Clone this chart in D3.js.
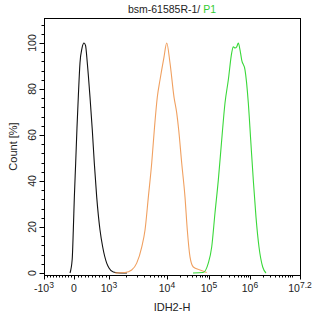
<!DOCTYPE html>
<html><head><meta charset="utf-8">
<script src="https://cdn.jsdelivr.net/npm/d3@7"></script>
<style>body{margin:0;background:#fff}svg{display:block}text{font-family:"Liberation Sans",Arial,sans-serif}</style>
</head><body><svg id="c" width="314" height="317"></svg>
<script>
// ---- data (x in fluorescence units, y in % of max count) ----
const blackX = [-133,-60,-23,10,48,85,123,171,229,286,329,380,457,523,580,649,743,820,934,1000,1186,1550,2040];
const blackY = [0,6,18.7,33,47.8,63,76.5,91.3,97.8,100,99,91.3,76.5,62.2,47.8,33,18.7,11.3,4.3,2.2,0.4,0,0];
const orangeX = [1268,1888,2460,3003,3666,4180,4768,5450,6040,6808,7570,8103,8875,9890,11790,14680,17030,19000,22390,26830,30430,35290,42300,61030,88100];
const orangeY = [0,0.2,1.3,4.3,11.3,18.7,33,47.8,62.2,76.5,83.9,88.3,93.9,100,91.3,76.5,69.6,62.2,47.8,33,18.7,7,2.6,1.3,0.2];
const greenX = [41590,71950,96200,116400,140000,168700,204000,245600,295600,357900,391600,430600,474000,519000,570700,627700,755300,910000,1040000,1200000,1393000,1644000,2018000,2420000];
const greenY = [0,0.2,4.3,11.3,26.1,40.4,57.8,73.9,83.9,95.7,98.4,97.8,98.3,100,97,92.6,88.3,73.9,57.8,40.4,24.3,11.3,2.6,0];
const xTickVals = [-1000,0,1000,1e4,1e5,1e6,Math.pow(10,7.2)];
const xTickLabels = [["-10","3"],["0",""],["10","3"],["10","4"],["10","5"],["10","6"],["10","7.2"]];
const yTickVals = [0,20,40,60,80,100];
const titleMain = "bsm-61585R-1/ ";
const titleGate = "P1";
const xTitle = "IDH2-H";
const yTitle = "Count [%]";

const svg = d3.select("#c");
const L=44,R=300,T=18,B=275;
// biexponential-like display: linear around zero, log above 10^3
const xLin = d3.scaleLinear().domain([-1000,0,1000]).range([44,74,109]);
const xLog = d3.scaleLog().domain([1e3,1e4,1e5,1e6,Math.pow(10,7.2)]).range([109,167,209,250,300]);
const x = v => v<=1000 ? xLin(v) : xLog(v);
const y = d3.scaleLinear().domain([0,100]).range([273,43]);

// minor ticks
const xMinor=[];
for(let v=-900;v<=900;v+=100) if(v!==0) xMinor.push(v);
[1e3,1e4,1e5,1e6].forEach(d=>{for(let k=2;k<=9;k++) xMinor.push(k*d);});
xMinor.push(1e7);
const yMinor=[]; for(let v=0;v<=108;v+=4) if(v%20!==0) yMinor.push(v);

const g = svg.append("g").attr("stroke","#000").attr("stroke-width",1);
g.selectAll(".xm").data(xMinor).join("line").attr("x1",d=>Math.round(x(d))+0.5).attr("x2",d=>Math.round(x(d))+0.5).attr("y1",B).attr("y2",B+2.5);
g.selectAll(".xM").data(xTickVals).join("line").attr("x1",d=>Math.round(x(d))+0.5).attr("x2",d=>Math.round(x(d))+0.5).attr("y1",B).attr("y2",B+4.5);
g.selectAll(".ym").data(yMinor).join("line").attr("y1",d=>Math.round(y(d))+0.5).attr("y2",d=>Math.round(y(d))+0.5).attr("x1",L).attr("x2",L-2.5);
g.selectAll(".yM").data(yTickVals).join("line").attr("y1",d=>Math.round(y(d))+0.5).attr("y2",d=>Math.round(y(d))+0.5).attr("x1",L).attr("x2",L-4.5);

// curves
const line = d3.line().x((d)=>x(d[0])).y(d=>y(d[1])).curve(d3.curveMonotoneX);
const series=[[blackX,blackY,"#111"],[orangeX,orangeY,"#f0a060"],[greenX,greenY,"#3ad83a"]];
series.forEach(([xs,ys,c])=>{
  svg.append("path").attr("d",line(xs.map((v,i)=>[v,ys[i]]))).attr("fill","none").attr("stroke",c).attr("stroke-width",1.1);
});

// frame
svg.append("rect").attr("x",L+0.5).attr("y",T+0.5).attr("width",R-L).attr("height",B-T).attr("fill","none").attr("stroke","#000").attr("stroke-width",1);

// x tick labels
const xl = svg.append("g").attr("fill","#222").attr("font-size",10.5);
xTickVals.forEach((v,i)=>{
  const t = xl.append("text").attr("x",x(v)).attr("y",292).attr("text-anchor","middle");
  t.append("tspan").text(xTickLabels[i][0]);
  if(xTickLabels[i][1]) t.append("tspan").attr("dy",-4).attr("font-size",8.5).text(xTickLabels[i][1]);
});
// y tick labels (rotated)
yTickVals.forEach(v=>{
  svg.append("text").attr("transform",`translate(36,${y(v)}) rotate(-90)`).attr("text-anchor","middle").attr("font-size",10.5).attr("fill","#222").text(v);
});
// axis titles
svg.append("text").attr("x",(L+R)/2).attr("y",311).attr("text-anchor","middle").attr("font-size",11).attr("fill","#222").text(xTitle);
svg.append("text").attr("transform",`translate(17,${(T+B)/2}) rotate(-90)`).attr("text-anchor","middle").attr("font-size",11).attr("fill","#222").text(yTitle);
// title
const tt = svg.append("text").attr("x",(L+R)/2).attr("y",13).attr("text-anchor","middle").attr("font-size",10.5);
tt.append("tspan").attr("fill","#222").text(titleMain);
tt.append("tspan").attr("fill","#33cc33").text(titleGate);
</script></body></html>
